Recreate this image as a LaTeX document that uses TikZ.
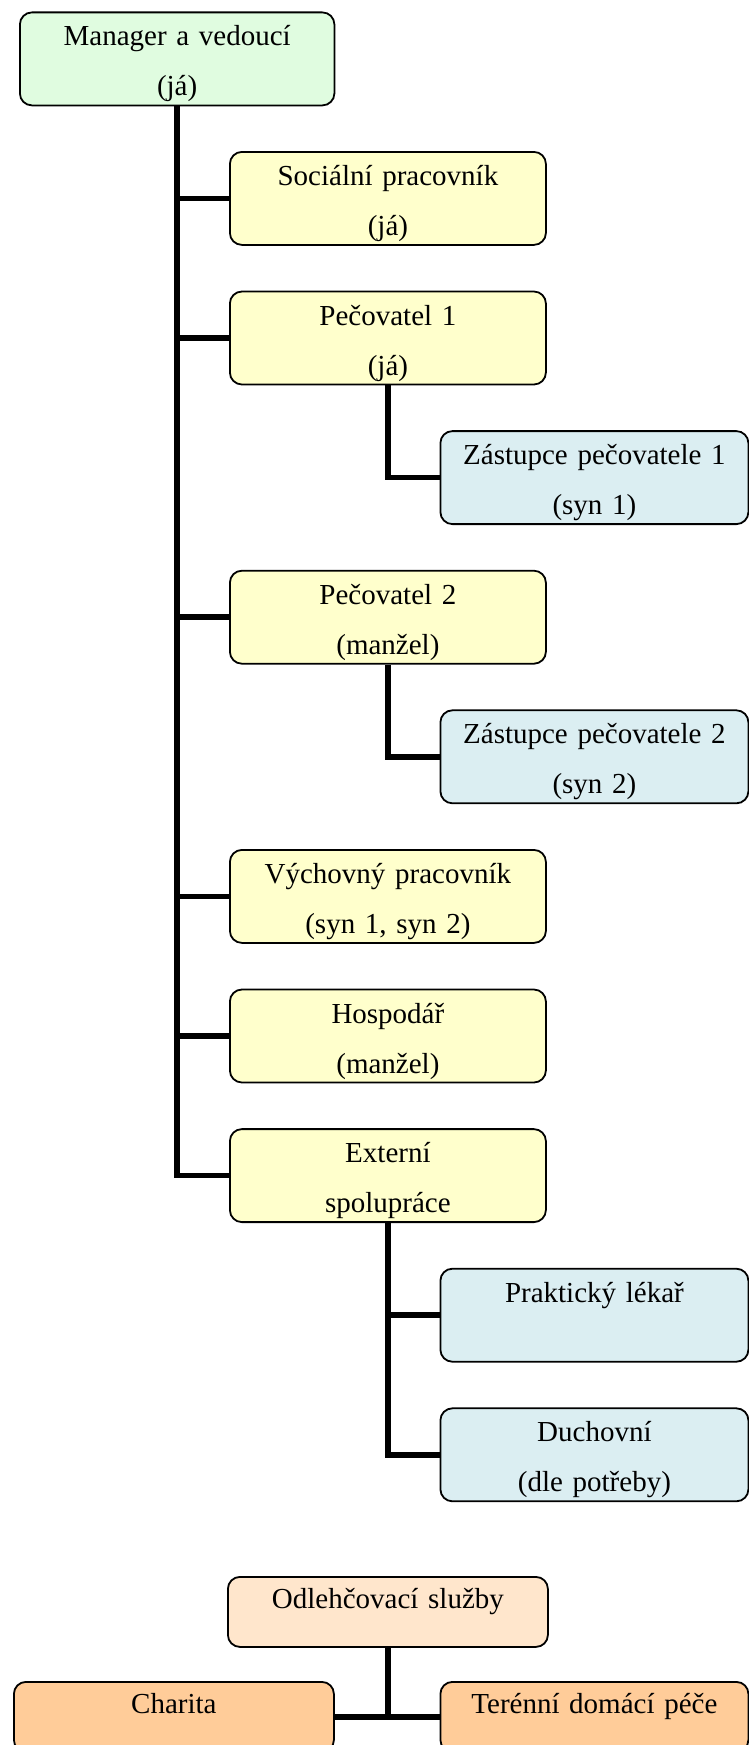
\documentclass[tikz,border=0pt]{standalone}
\usepackage{fontspec}
\setmainfont{Liberation Serif}
\definecolor{cgreen}{RGB}{224,252,224}
\definecolor{cyellow}{RGB}{255,255,204}
\definecolor{cblue}{RGB}{219,238,242}
\definecolor{cpeach}{RGB}{255,230,204}
\definecolor{corange}{RGB}{255,204,153}
\begin{document}
\begin{tikzpicture}[x=1pt,y=-1pt,
  box/.style={draw=black, line width=1.8pt, rounded corners=12pt, inner sep=0pt,
    anchor=north west, align=center, text width=300pt,
    font=\fontsize{29}{50}\selectfont, text height=33.5pt, text depth=59.5pt,
    minimum width=316pt},
  lowbox/.style={box, text height=32pt, text depth=38pt, minimum width=320pt},
  conn/.style={line width=5.5pt, draw=black}]
\useasboundingbox (0,0) rectangle (749,1745);
\clip (0,0) rectangle (749,1745);
\node[box, fill=cgreen, minimum width=314.5pt] (mgr) at (19,11.5) {Manager a vedoucí\\(já)};
\node[box, fill=cyellow] (soc) at (229,151) {Sociální pracovník\\(já)};
\node[box, fill=cyellow] (p1) at (229,290.6) {Pečovatel 1\\(já)};
\node[box, fill=cblue, minimum width=308pt] (z1) at (439.5,430.2) {Zástupce pečovatele 1\\(syn 1)};
\node[box, fill=cyellow] (p2) at (229,569.8) {Pečovatel 2\\(manžel)};
\node[box, fill=cblue, minimum width=308pt] (z2) at (439.5,709.4) {Zástupce pečovatele 2\\(syn 2)};
\node[box, fill=cyellow] (vych) at (229,849) {Výchovný pracovník\\(syn 1, syn 2)};
\node[box, fill=cyellow] (hosp) at (229,988.6) {Hospodář\\(manžel)};
\node[box, fill=cyellow] (ext) at (229,1128.2) {Externí\\spolupráce};
\node[box, fill=cblue, minimum width=308pt] (prak) at (439.5,1267.8) {Praktický lékař};
\node[box, fill=cblue, minimum width=308pt] (duch) at (439.5,1407.4) {Duchovní\\(dle potřeby)};
\node[lowbox, fill=cpeach] (odl) at (227,1576) {Odlehčovací služby};
\node[lowbox, fill=corange] (char) at (13,1681) {Charita};
\node[lowbox, fill=corange, minimum width=308pt] (ter) at (439.5,1681) {Terénní domácí péče};
\foreach \t in {soc,p1,p2,vych,hosp,ext}{\draw[conn] (mgr.south) |- (\t.west);}
\draw[conn] (p1.south) |- (z1.west);
\draw[conn] (p2.south) |- (z2.west);
\draw[conn] (ext.south) |- (prak.west);
\draw[conn] (ext.south) |- (duch.west);
\draw[conn] (odl.south) -- (odl.south |- char.east);
\draw[conn] (char.east) -- (ter.west);
\end{tikzpicture}
\end{document}
